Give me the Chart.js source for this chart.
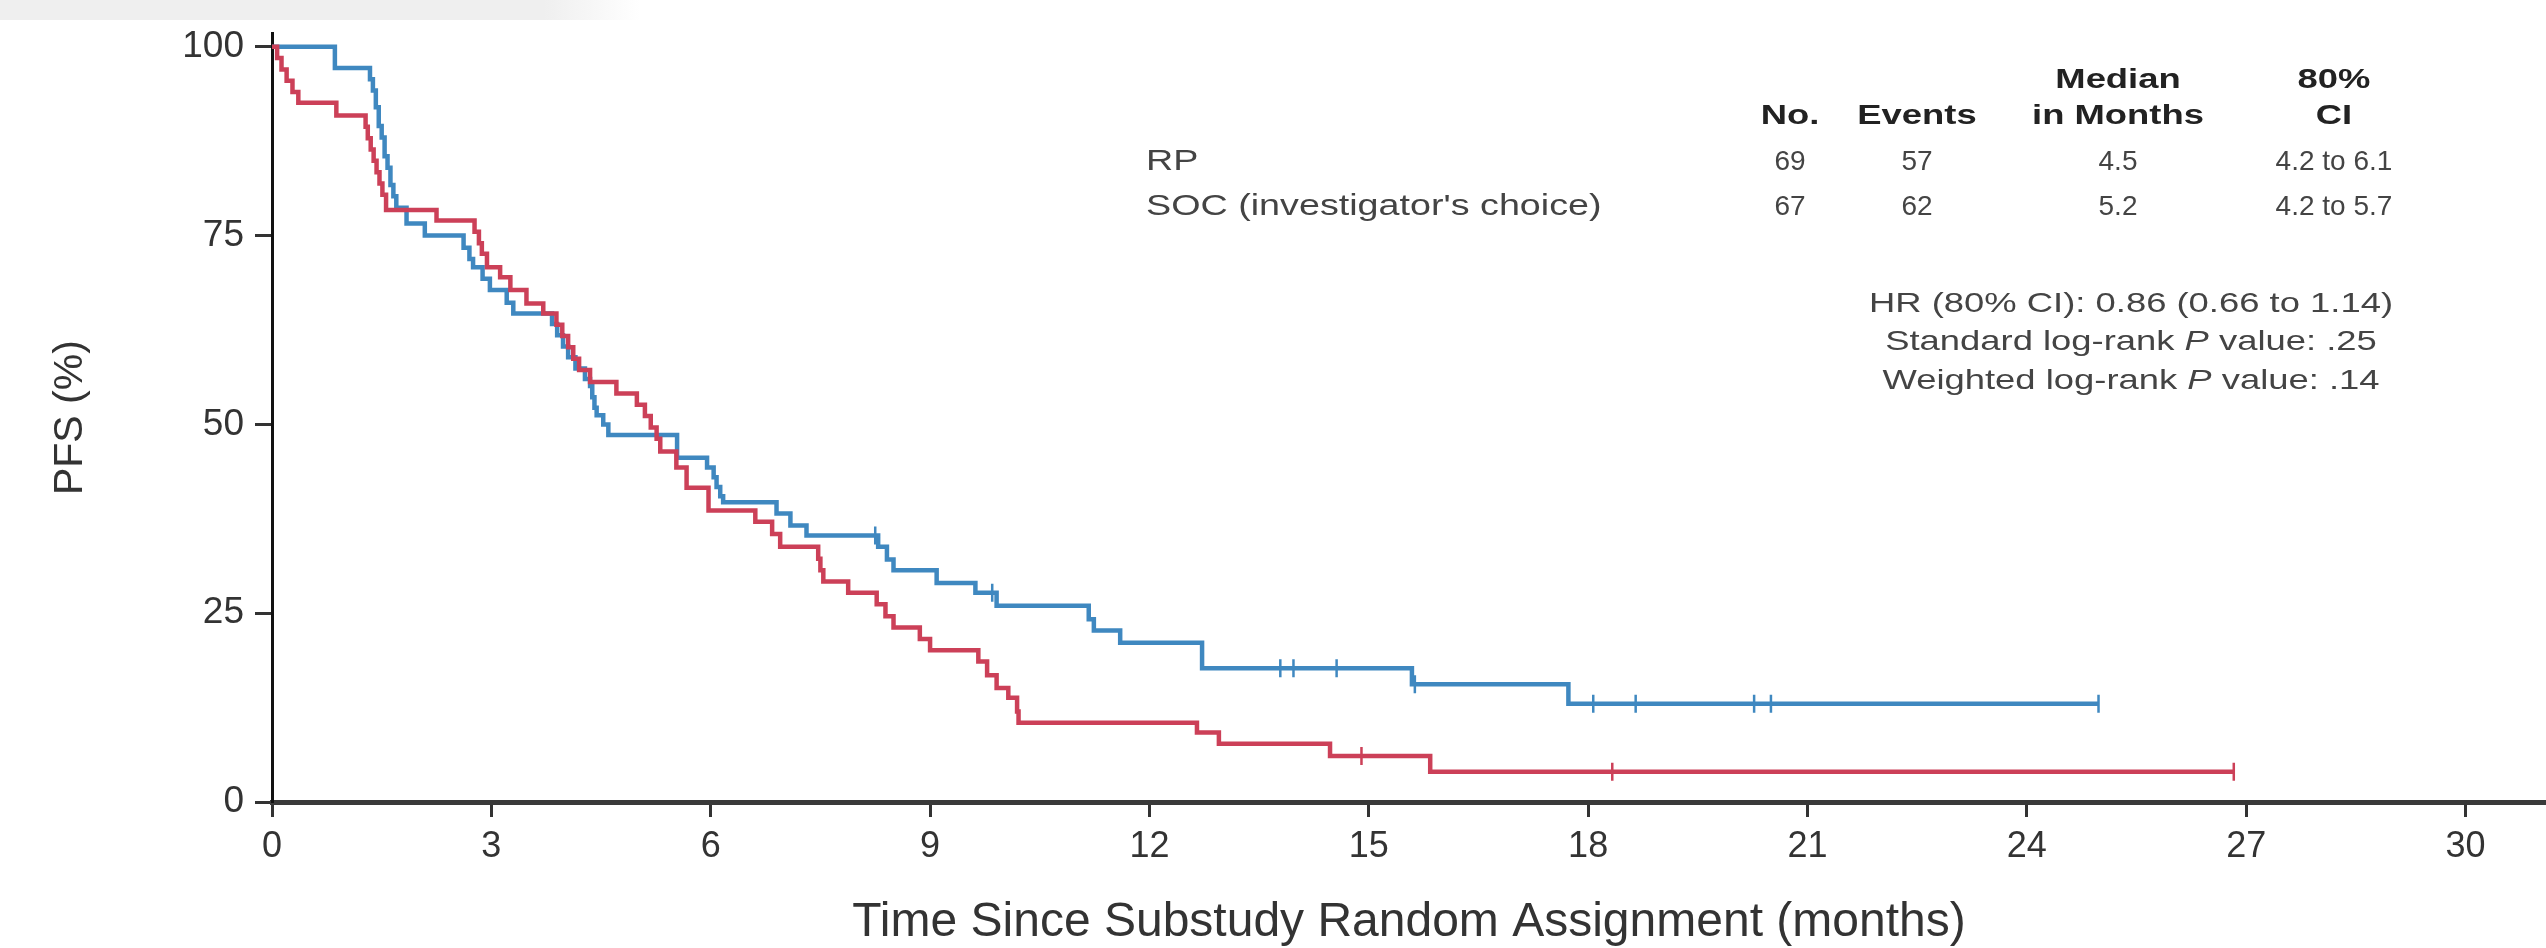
<!DOCTYPE html>
<html lang="en">
<head>
    <meta charset="UTF-8">
    <title>PFS - RP vs SOC</title>
    <script src="https://cdn.jsdelivr.net/npm/chart.js"></script>
    <style>
        * {
            margin: 0;
            padding: 0;
            box-sizing: border-box;
        }
        body {
            background: #fff;
            width: 2546px;
            height: 948px;
            overflow: hidden;
        }
        .top-band {
            position: absolute;
            left: 0;
            top: 0;
            width: 640px;
            height: 20px;
            background: linear-gradient(to right, #efefef 85%, #fff);
        }
        .chart-box {
            position: relative;
            width: 2546px;
            height: 948px;
        }
    </style>
</head>
<body>
    <div class="top-band"></div>
    <div class="chart-box">
        <canvas id="pfsChart"></canvas>
    </div>

    <script>
        // Kaplan-Meier steps: month of each drop -> PFS (%) after it
        const rpTime = [0, 0.86, 1.34, 1.38, 1.42, 1.46, 1.50, 1.54, 1.58, 1.62, 1.66, 1.70, 1.84, 2.09,
            2.62, 2.70, 2.75, 2.88, 2.98, 3.21, 3.30, 3.83, 3.90, 3.98, 4.05, 4.15, 4.28, 4.35, 4.38,
            4.41, 4.44, 4.53, 4.60, 5.54, 5.95, 6.04, 6.08, 6.13, 6.17, 6.90, 7.09, 7.31, 8.29, 8.41,
            8.50, 9.09, 9.62, 9.91, 11.17, 11.24, 11.60, 12.72, 15.59, 17.73, 24.98];
        const rpPfs = [100, 97.2, 95.7, 94.2, 92.0, 89.5, 88.0, 85.5, 84.0, 81.7, 80.2, 78.7, 76.6, 75.0,
            73.4, 71.9, 70.8, 69.3, 67.8, 66.1, 64.7, 63.3, 61.8, 60.3, 58.9, 57.4, 56.0, 55.1, 53.6,
            52.2, 51.2, 50.0, 48.6, 45.6, 44.3, 43.0, 41.7, 40.5, 39.7, 38.2, 36.6, 35.3, 33.8, 32.1,
            30.7, 29.0, 27.7, 26.0, 24.2, 22.7, 21.1, 17.7, 15.6, 13.0, 13.0];
        const rpCensor = [8.25, 9.85, 13.79, 13.97, 14.56, 15.63, 18.07, 18.65, 20.27, 20.50, 24.98];

        const socTime = [0, 0.07, 0.13, 0.20, 0.28, 0.36, 0.88, 1.28, 1.31, 1.35, 1.39, 1.43, 1.47, 1.51,
            1.56, 2.25, 2.77, 2.83, 2.87, 2.94, 3.12, 3.26, 3.48, 3.71, 3.89, 3.97, 4.05, 4.12, 4.20,
            4.35, 4.71, 4.99, 5.10, 5.18, 5.26, 5.31, 5.53, 5.67, 5.97, 6.61, 6.84, 6.95, 7.47, 7.50,
            7.54, 7.88, 8.27, 8.39, 8.50, 8.86, 9.00, 9.66, 9.78, 9.91, 10.07, 10.19, 10.21, 12.65,
            12.95, 14.47, 15.84, 26.83];
        const socPfs = [100, 98.5, 97.0, 95.5, 94.0, 92.6, 90.9, 89.4, 87.9, 86.4, 84.9, 83.4, 81.9, 80.4,
            78.4, 77.0, 75.5, 74.0, 72.6, 70.8, 69.5, 67.8, 66.0, 64.7, 63.2, 61.7, 60.2, 58.7, 57.2,
            55.6, 54.1, 52.6, 51.1, 49.6, 48.1, 46.4, 44.3, 41.6, 38.6, 37.1, 35.5, 33.8, 32.2, 30.7,
            29.2, 27.7, 26.2, 24.6, 23.1, 21.6, 20.1, 18.6, 16.8, 15.1, 13.8, 12.0, 10.5, 9.2,
            7.7, 6.1, 4.0, 4.0];
        const socCensor = [14.90, 18.33, 26.83];

        const xTicks = [0, 3, 6, 9, 12, 15, 18, 21, 24, 27, 30];
        const yTicks = [0, 25, 50, 75, 100];

        // table in the upper right
        const groups = ['RP', "SOC (investigator's choice)"];
        const nPatients = ['69', '67'];
        const nEvents = ['57', '62'];
        const medians = ['4.5', '5.2'];
        const ci80 = ['4.2 to 6.1', '4.2 to 5.7'];
        const headTop = ['', '', 'Median', '80%'];
        const headBottom = ['No.', 'Events', 'in Months', 'CI'];
        const statLines = [
            ['HR (80% CI): 0.86 (0.66 to 1.14)', '', ''],
            ['Standard log-rank ', 'P', ' value: .25'],
            ['Weighted log-rank ', 'P', ' value: .14']
        ];

        const FONT = '"Liberation Sans", Arial, Helvetica, sans-serif';
        const BLUE = '#3f88c0';
        const RED = '#cc4058';
        const WIDE = 1.3; // the figure's table text is stretched sideways

        // PFS value of a step curve at time t (for placing censor ticks)
        function pfsAt(times, vals, t) {
            let v = vals[0];
            for (let i = 0; i < times.length; i++) {
                if (times[i] <= t) v = vals[i];
            }
            return v;
        }

        function steps(times, vals) {
            return times.map((t, i) => ({ x: t, y: vals[i] }));
        }

        function censors(list, times, vals) {
            return list.map(t => ({ x: t, y: pfsAt(times, vals, t) }));
        }

        // text drawn with a horizontal stretch
        function wideText(ctx, text, x, y, align, sx) {
            ctx.save();
            ctx.translate(x, y);
            ctx.scale(sx, 1);
            ctx.textAlign = align;
            ctx.fillText(text, 0, 0);
            ctx.restore();
        }

        // draws the summary table and the test results
        const tablePlugin = {
            id: 'pfsTable',
            afterDraw(chart) {
                const ctx = chart.ctx;
                const colX = [1790, 1917, 2118, 2334];
                ctx.save();
                ctx.textBaseline = 'middle';

                ctx.fillStyle = '#222';
                ctx.font = 'bold 28px ' + FONT;
                headTop.forEach((h, i) => wideText(ctx, h, colX[i], 80, 'center', WIDE));
                headBottom.forEach((h, i) => wideText(ctx, h, colX[i], 116, 'center', WIDE));

                ctx.fillStyle = '#444';
                groups.forEach((g, i) => {
                    const y = 162 + i * 45;
                    ctx.font = '29px ' + FONT;
                    wideText(ctx, g, 1146, y, 'left', WIDE);
                    ctx.font = '28px ' + FONT;
                    ctx.textAlign = 'center';
                    ctx.fillText(nPatients[i], colX[0], y);
                    ctx.fillText(nEvents[i], colX[1], y);
                    ctx.fillText(medians[i], colX[2], y);
                    ctx.fillText(ci80[i], colX[3], y);
                });

                // stats lines, centred, with an italic P
                statLines.forEach((parts, i) => {
                    const y = 304 + i * 38.5;
                    const normal = '28px ' + FONT;
                    const italic = 'italic 28px ' + FONT;
                    ctx.font = normal;
                    const w0 = ctx.measureText(parts[0]).width * WIDE;
                    const w2 = ctx.measureText(parts[2]).width * WIDE;
                    ctx.font = italic;
                    const w1 = ctx.measureText(parts[1]).width * WIDE;
                    let x = 2131 - (w0 + w1 + w2) / 2;
                    ctx.font = normal;
                    wideText(ctx, parts[0], x, y, 'left', WIDE);
                    x += w0;
                    ctx.font = italic;
                    wideText(ctx, parts[1], x, y, 'left', WIDE);
                    x += w1;
                    ctx.font = normal;
                    wideText(ctx, parts[2], x, y, 'left', WIDE);
                });
                ctx.restore();
            }
        };

        new Chart(document.getElementById('pfsChart'), {
            type: 'line',
            data: {
                datasets: [
                    {
                        label: 'SOC (investigator\'s choice)',
                        data: steps(socTime, socPfs),
                        borderColor: RED,
                        borderWidth: 4.5,
                        stepped: true,
                        pointRadius: 0,
                        fill: false
                    },
                    {
                        label: 'RP',
                        data: steps(rpTime, rpPfs),
                        borderColor: BLUE,
                        borderWidth: 4.5,
                        stepped: true,
                        pointRadius: 0,
                        fill: false
                    },
                    {
                        label: 'SOC censored',
                        data: censors(socCensor, socTime, socPfs),
                        showLine: false,
                        pointStyle: 'line',
                        pointRotation: 90,
                        pointRadius: 9,
                        pointBorderWidth: 2.5,
                        pointBorderColor: RED,
                        borderColor: RED
                    },
                    {
                        label: 'RP censored',
                        data: censors(rpCensor, rpTime, rpPfs),
                        showLine: false,
                        pointStyle: 'line',
                        pointRotation: 90,
                        pointRadius: 9,
                        pointBorderWidth: 2.5,
                        pointBorderColor: BLUE,
                        borderColor: BLUE
                    }
                ]
            },
            options: {
                responsive: true,
                maintainAspectRatio: false,
                animation: false,
                devicePixelRatio: 1,
                layout: {
                    autoPadding: false,
                    padding: { top: 23, right: 0, bottom: 0, left: 0 }
                },
                plugins: {
                    legend: { display: false },
                    tooltip: { enabled: false }
                },
                scales: {
                    x: {
                        type: 'linear',
                        min: 0,
                        max: 31.1,
                        afterBuildTicks: s => { s.ticks = xTicks.map(v => ({ value: v })); },
                        afterFit: s => { s.height = 146; },
                        ticks: {
                            font: { family: FONT, size: 36 },
                            color: '#333',
                            padding: 8,
                            maxRotation: 0,
                            autoSkip: false
                        },
                        grid: {
                            drawOnChartArea: false,
                            drawTicks: true,
                            tickLength: 15,
                            tickWidth: 3,
                            tickColor: '#333'
                        },
                        border: { display: true, color: '#3a3a3a', width: 5 },
                        title: {
                            display: true,
                            text: 'Time Since Substudy Random Assignment (months)',
                            font: { family: FONT, size: 48, lineHeight: 0.9 },
                            color: '#333',
                            padding: { top: 0, bottom: 4 }
                        }
                    },
                    y: {
                        min: 0,
                        max: 101.8,
                        afterBuildTicks: s => { s.ticks = yTicks.map(v => ({ value: v })); },
                        afterFit: s => { s.width = 272; },
                        ticks: {
                            font: { family: FONT, size: 37 },
                            color: '#333',
                            padding: 11
                        },
                        grid: {
                            drawOnChartArea: false,
                            drawTicks: true,
                            tickLength: 17,
                            tickWidth: 3,
                            tickColor: '#333'
                        },
                        border: { display: true, color: '#111', width: 3 },
                        title: {
                            display: true,
                            text: 'PFS (%)',
                            font: { family: FONT, size: 41 },
                            color: '#333',
                            padding: { top: 46, bottom: 0 }
                        }
                    }
                }
            },
            plugins: [tablePlugin]
        });
    </script>
</body>
</html>
